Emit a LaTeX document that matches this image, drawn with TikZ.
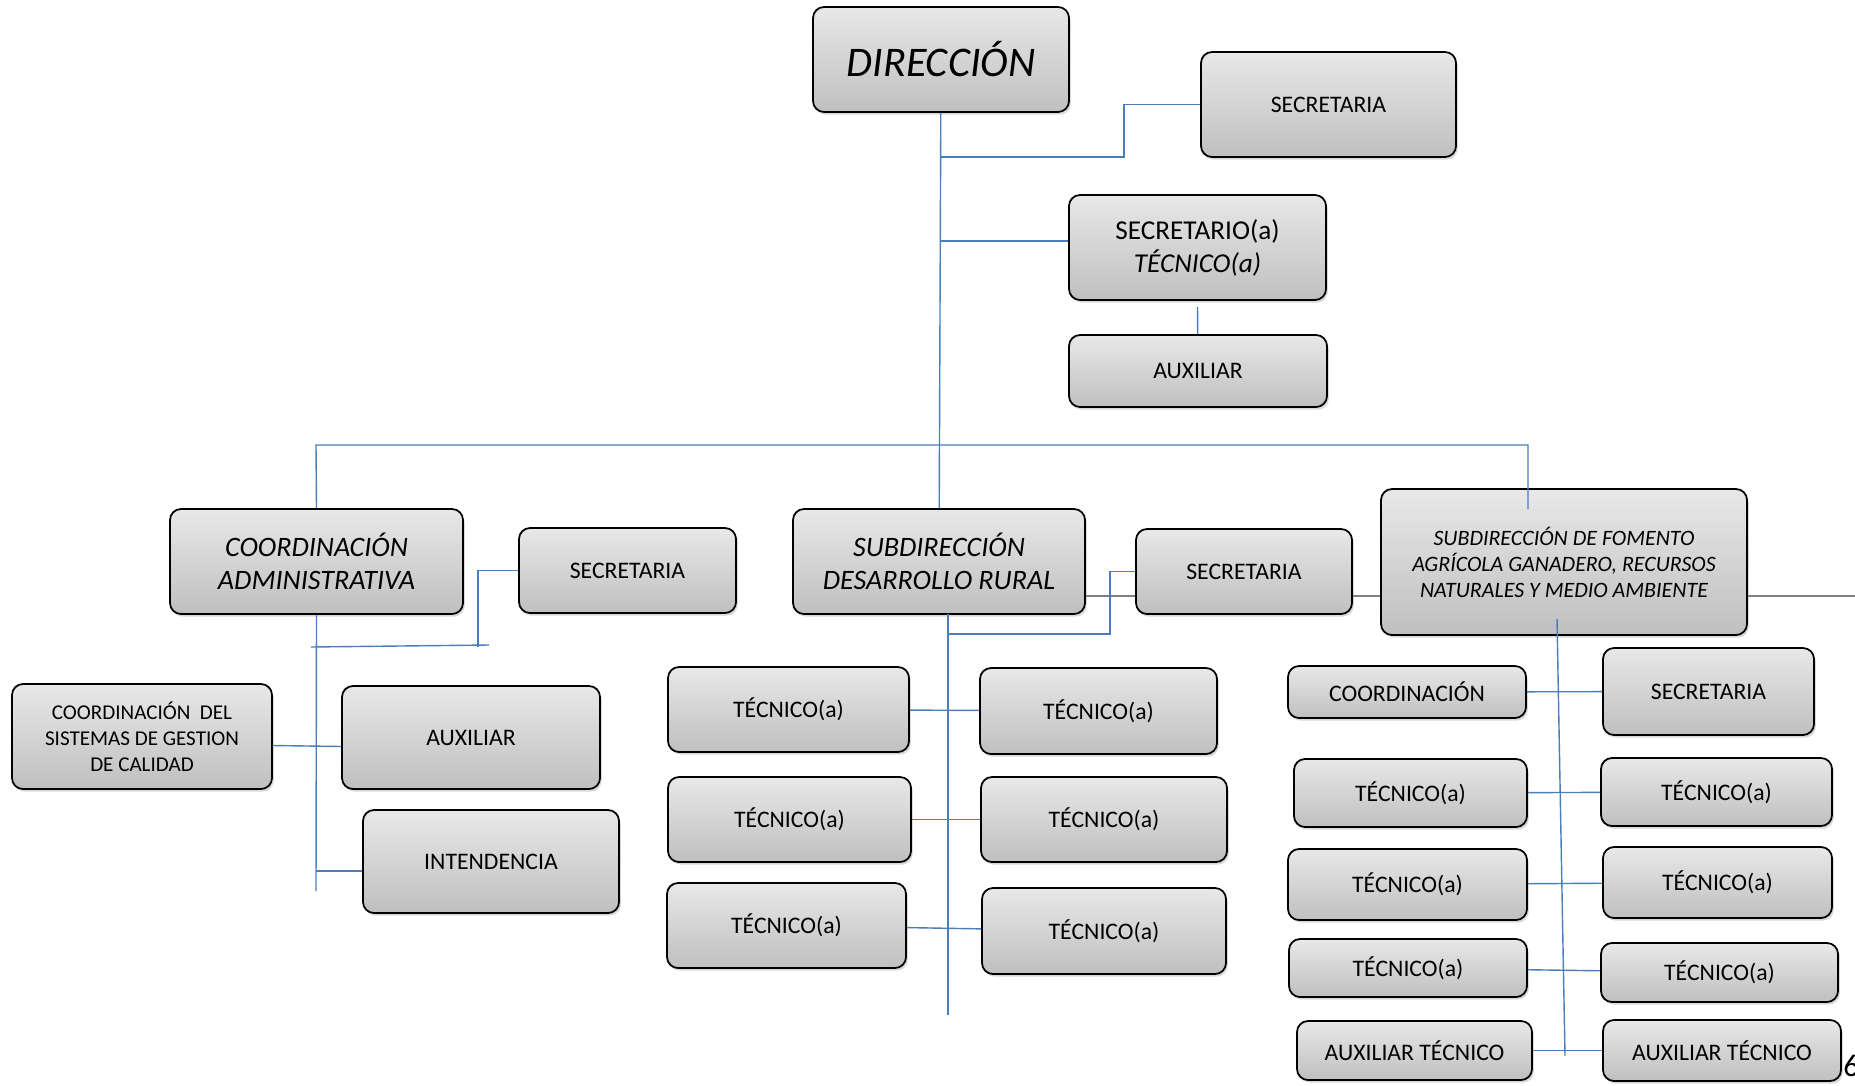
\documentclass[tikz,border=0pt]{standalone}
\usepackage{fontspec}
\setmainfont{Carlito}
\usetikzlibrary{shadows}
\definecolor{linea}{RGB}{74,126,187}
\definecolor{gris}{RGB}{128,128,128}

\begin{document}
\begin{tikzpicture}
  [x=0.02cm,y=-0.02cm,
   caja/.style={draw=black,line width=1pt,rounded corners=0.22cm,top color=gray!18,bottom color=gray!50,
     drop shadow={shadow xshift=1pt,shadow yshift=-1.5pt,opacity=0.3},align=center,inner sep=2pt,
     font=\fontsize{13.5}{16.5}\selectfont},
   wh/.style 2 args={minimum width=#1*0.02cm,minimum height=#2*0.02cm},
   titulo/.style={font=\fontsize{16}{19}\selectfont\itshape},
   chico/.style={font=\fontsize{12}{14.8}\selectfont},
   conn/.style={draw=linea,line width=0.8pt}]
  \useasboundingbox (0,0) rectangle (1855,1085);
  \node[caja,wh={256}{105},font=\fontsize{24}{28}\selectfont\itshape] (ndir) at (941,59.5) {DIRECCIÓN};
  \node[caja,wh={255}{105}] (nsec1) at (1328.5,104.5) {SECRETARIA};
  \node[caja,wh={257}{105},font=\fontsize{15.5}{18.8}\selectfont] (nsect) at (1197.5,247.5) {SECRETARIO(a)\\\textit{TÉCNICO(a)}};
  \node[caja,wh={258}{72}] (naux1) at (1198,371) {AUXILIAR};
  \node[caja,wh={293}{105},titulo] (ncad) at (316.5,561.5) {COORDINACIÓN\\ADMINISTRATIVA};
  \node[caja,wh={217}{85}] (nsec2) at (627.5,570.5) {SECRETARIA};
  \node[caja,wh={292}{105},titulo] (nsdr) at (939,561.5) {SUBDIRECCIÓN\\DESARROLLO RURAL};
  \node[caja,wh={216}{85}] (nsec3) at (1244,571.5) {SECRETARIA};
  \node[caja,wh={366}{146},font=\fontsize{12.5}{14.8}\selectfont\itshape] (nfom) at (1564,562) {SUBDIRECCIÓN DE FOMENTO\\AGRÍCOLA GANADERO, RECURSOS\\NATURALES Y MEDIO AMBIENTE};
  \node[caja,wh={260}{105},chico] (ncal) at (142,736.5) {COORDINACIÓN\ \ DEL\\SISTEMAS DE GESTION\\DE CALIDAD};
  \node[caja,wh={258}{103}] (nauxb) at (471,737.5) {AUXILIAR};
  \node[caja,wh={256}{103}] (nint) at (491,861.5) {INTENDENCIA};
  \node[caja,wh={241}{85}] (t1l) at (788.5,709.5) {TÉCNICO(a)};
  \node[caja,wh={237}{86}] (t1r) at (1098.5,711) {TÉCNICO(a)};
  \node[caja,wh={243}{85}] (t2l) at (789.5,819.5) {TÉCNICO(a)};
  \node[caja,wh={246}{85}] (t2r) at (1104,819.5) {TÉCNICO(a)};
  \node[caja,wh={239}{85}] (t3l) at (786.5,925.5) {TÉCNICO(a)};
  \node[caja,wh={244}{86}] (t3r) at (1104,931) {TÉCNICO(a)};
  \node[caja,wh={238}{52}] (ncoor) at (1407,692) {COORDINACIÓN};
  \node[caja,wh={211}{87}] (nsec4) at (1708.5,691.5) {SECRETARIA};
  \node[caja,wh={233}{68}] (f1l) at (1410.5,793) {TÉCNICO(a)};
  \node[caja,wh={231}{68}] (f1r) at (1716.5,792) {TÉCNICO(a)};
  \node[caja,wh={239}{71}] (f2l) at (1407.5,884.5) {TÉCNICO(a)};
  \node[caja,wh={229}{71}] (f2r) at (1717.5,882.5) {TÉCNICO(a)};
  \node[caja,wh={238}{58}] (f3l) at (1408,968) {TÉCNICO(a)};
  \node[caja,wh={237}{59}] (f3r) at (1719.5,972.5) {TÉCNICO(a)};
  \node[caja,wh={235}{59}] (a1) at (1414.5,1050.5) {AUXILIAR TÉCNICO};
  \node[caja,wh={238}{61}] (a2) at (1722,1050.5) {AUXILIAR TÉCNICO};
  \node[anchor=west,inner sep=0pt,font=\fontsize{18}{18}\selectfont] (npag) at (1843,1066) {6};

  \coordinate (k1) at (941,157);
  \coordinate (k1b) at (1124,157);
  \coordinate (k2) at (941,241);
  \coordinate (busL) at (316,445);
  \coordinate (busR) at (1528,445);
  \coordinate (busRend) at (1528,509);
  \coordinate (cadEnd) at (316,891);
  \coordinate (k3) at (311,647);
  \coordinate (k3b) at (478,647);
  \coordinate (k3e) at (489,645);
  \coordinate (k4) at (316,871);
  \coordinate (sdrTop) at (948,614);
  \coordinate (sdrEnd) at (948,1015);
  \coordinate (k5) at (948,634);
  \coordinate (k5b) at (1110,634);
  \coordinate (fomTop) at (1557,619);
  \coordinate (fomEnd) at (1565,1056);
  \coordinate (gEnd) at (1855,596);

  \draw[gris,line width=0.8pt] (gEnd -| nsdr.east) -- (gEnd -| nsec3.west)
    (gEnd -| nsec3.east) -- (gEnd -| nfom.west) (gEnd -| nfom.east) -- (gEnd);
  \draw[conn] (ndir) -- (nsdr);
  \draw[conn] (k1) -- (k1b) |- (nsec1);
  \draw[conn] (k2) -- (k2 -| nsect.west);
  \draw[conn] ([yshift=-1.2mm]nsect.south) -- (naux1);
  \draw[conn] (ncad.north) -- (busL) -- (busR) -- (busRend);
  \draw[conn] (ncad.south) -- (cadEnd);
  \draw[conn] (k3) -- (k3e);
  \draw[conn] (k3b) |- (nsec2);
  \draw[conn] ([yshift=-0.18cm]ncal.east) -- ([yshift=-0.18cm]nauxb.west);
  \draw[conn] (k4) -- (k4 -| nint.west);
  \draw[conn] (sdrTop) -- (sdrEnd);
  \draw[conn] (k5) -- (k5b) |- (nsec3);
  \draw[conn] (fomTop) -- (fomEnd);
  \foreach \from/\to in {t1l/t1r,t2l/t2r,t3l/t3r,ncoor/nsec4,f1l/f1r,f2l/f2r,f3l/f3r,a1/a2}
    \draw[conn] (\from) -- (\to);
\end{tikzpicture}
\end{document}
